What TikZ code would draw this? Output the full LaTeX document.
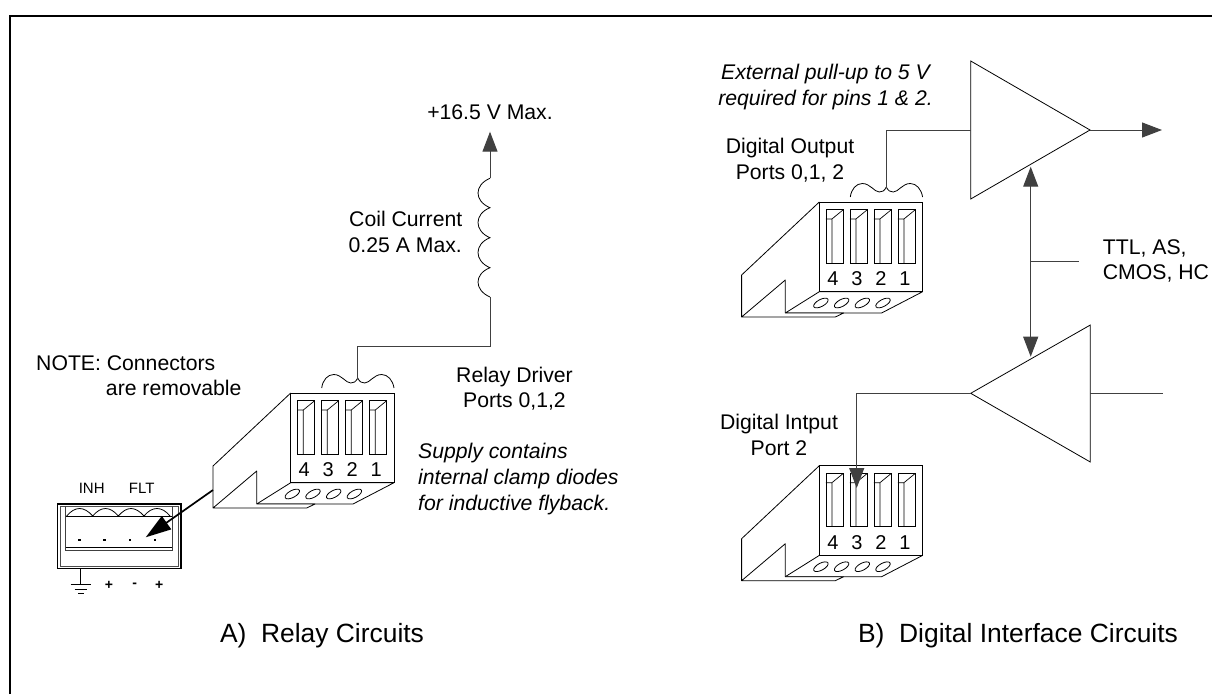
\documentclass[tikz,border=0pt]{standalone}
\usepackage{fontspec}
\setmainfont{Liberation Sans}
\usetikzlibrary{arrows.meta}
\tikzset{
  wire/.style={line width=1pt,draw=black!75},
  thin line/.style={line width=0.8pt,draw=black},
  arrowed/.style={wire,-{Triangle[length=20pt,width=15pt]}},
  twoway/.style={wire,{Triangle[length=20pt,width=15pt]}-{Triangle[length=20pt,width=15pt]}},
  label/.style={inner sep=0pt,font=\fontsize{21.2}{25.4}\selectfont,align=left},
  note text/.style={inner sep=0pt,font=\fontsize{21.2}{26}\selectfont\itshape},
  caption text/.style={inner sep=0pt,font=\fontsize{26.4}{30}\selectfont,anchor=base},
  small/.style={inner sep=0pt,font=\fontsize{15}{18}\selectfont},
  pin/.style={inner sep=0pt,font=\fontsize{20}{22}\selectfont},
  sign/.style={inner sep=0pt,font=\fontsize{14}{16}\bfseries\selectfont},
}
\newcommand{\connector}[3]{%
\begin{scope}[shift={(#1,#2)}]
  \draw[thin line,line join=round] (0,89.7) -- (103.3,89.7) -- (62.3,111) -- (-34,111) -- cycle;
  \draw[thin line,fill=white,line join=round] (0,0) -- (-77.7,73) -- (-77.7,115) -- (16,115) -- (24.3,111) -- (-34,111) -- (-34,78) -- (-77.7,115);
  \draw[thin line] (0,0) rectangle (103.3,89.7);
  \foreach \k/\n in {0/4,1/3,2/2,3/1}{
    \begin{scope}[xshift=\k*24pt]
      \draw[thin line] (6.6,7.7) rectangle (24,61);
      \draw[line width=0.7pt] (12.6,61) -- (12.6,17) -- (6.6,17) (12.6,17) -- (24,7.7);
      \node[pin] (#3n\n) at (13.5,77) {\n};
    \end{scope}
  }
  \foreach \k in {0,1,2,3}{
    \draw[thin line,rotate around={28:(1.6+\k*20.7,101)}] (1.6+\k*20.7,101) ellipse (8 and 3.5);
  }
  \coordinate (#3top) at (67,-14);
  \coordinate (#3left) at (-77.7,97);
\end{scope}}
\newcommand{\pinbrace}[2]{%
\begin{scope}[shift={(#1,#2)}]
  \draw[thin line] (31,-5) .. controls (32,-13) and (37,-18.5) .. (43,-18.5)
    .. controls (51,-18.5) and (55,-10) .. (60,-10) .. controls (63,-10) and (65,-11) .. (67,-15)
    .. controls (69,-11) and (71,-10) .. (74,-10) .. controls (79,-10) and (83,-18.5) .. (91,-18.5)
    .. controls (97,-18.5) and (102,-13) .. (103.3,-5);
\end{scope}}
\begin{document}
\begin{tikzpicture}[x=1pt,y=-1pt]
\useasboundingbox (0,0) rectangle (1212,694);
\fill[white] (0,0) rectangle (1212,694);
\draw[line width=2.4pt] (10,694) -- (10,16) -- (1212,16);

% Relay connector
\connector{290.7}{393}{a}\pinbrace{290.7}{393}
% Digital output
\connector{819.3}{202}{b}\pinbrace{819.3}{202}
% Digital input
\connector{819.3}{465.7}{c}

% Coil
\coordinate (coilbot) at (490,297);
\coordinate (coiltop) at (490,178.3);
\coordinate (plus) at (490,131.7);
\draw[wire] (atop) -- (atop |- 0,346) -- (490,346) -- (coilbot);
\draw[thin line] (coilbot) .. controls (474,290) and (474,274) .. (490,267.7)
  .. controls (474,261) and (474,244) .. (490,237.7)
  .. controls (474,231) and (474,214) .. (490,207.7)
  .. controls (474,201) and (474,185) .. (490,178.3);
\draw[arrowed] (coiltop) -- (plus);

\node[label] (vmax) at (490,112) {+16.5 V Max.};
\node[label,anchor=east] (coil1) at (462.5,219) {Coil Current};
\node[label,anchor=east] (coil2) at (462,245) {0.25 A Max.};
\node[label,anchor=west] (note1) at (36,363) {NOTE: Connectors};
\node[label,anchor=east] (note2) at (241.7,388) {are removable};
\node[label,align=center] (relay) at (514.5,388.5) {Relay Driver\\Ports 0,1,2};
\node[note text,anchor=west,align=left] (supply) at (418,479) {Supply contains\\internal clamp diodes\\for inductive flyback.};
\node[caption text] (ca) at (322,642) {A)\ \ Relay Circuits};
\node[caption text] (cb) at (1018,642) {B)\ \ Digital Interface Circuits};

% Plug
\draw[line width=1.3pt] (57.7,504) rectangle (181,568.3);
\draw[thin line,draw=black!70] (60,506) rectangle (178.5,566);
\draw[line width=1pt,draw=black!75] (65.7,506) -- (65.7,550.7) -- (172.3,550.7) -- (172.3,506);
\draw[thin line] (65.7,547.3) -- (172.3,547.3);
\draw[thin line] (65.7,516) -- (172.3,516);
\draw[thin line] (66.7,516) .. controls (75,506) and (84,506) .. (92.7,516)
 .. controls (101,506) and (110,506) .. (118.3,516)
 .. controls (127,506) and (135,506) .. (144,516)
 .. controls (152,506) and (162,506) .. (170,516);
\foreach \x in {79.3,104.7,130,155}{\fill (\x-1.3,538.7) rectangle (\x+1.3,541.3);}
\node[small] (inh) at (91.7,488) {INH};
\node[small] (flt) at (141.7,488) {FLT};
\coordinate (plugpin) at (145.7,537.3);
\draw[line width=1.7pt,-{Triangle[length=25.5pt,width=16pt]}] (aleft) -- (plugpin);
% Ground
\coordinate (g0) at (80.7,568.3);
\coordinate (g1) at (80.7,584);
\draw[line width=1pt] (g0) -- (g1);
\draw[line width=1pt] (70.7,584) -- (90.7,584);
\draw[line width=1pt] (74.5,589) -- (87,589);
\draw[line width=1pt] (78.3,593.7) -- (84,593.7);
\node[sign] (p1) at (109,585) {+};
\node[sign] (m1) at (134.7,585) {-};
\node[sign] (p2) at (159.3,585) {+};

% Buffers
\coordinate (t1a) at (970.7,61);
\coordinate (t1b) at (970.7,199);
\coordinate (t1tip) at (1090,130);
\coordinate (t1in) at (970.7,130);
\coordinate (t1mid) at (1030.7,166.7);
\coordinate (out) at (1162,130);
\coordinate (t2a) at (1090.3,325);
\coordinate (t2b) at (1090.3,462);
\coordinate (t2tip) at (970.7,393.3);
\coordinate (t2in) at (1090.3,393.3);
\coordinate (t2mid) at (1030.7,356.7);
\coordinate (t2out) at (1162.7,393.3);
\coordinate (branch) at (1030.7,261.7);
\coordinate (branchend) at (1079,261.7);
\coordinate (cpin) at (856.7,488);
\draw[thin line,line join=miter] (t1a) -- (t1tip) -- (t1b) -- cycle;
\draw[thin line,line join=miter] (t2a) -- (t2tip) -- (t2b) -- cycle;
\draw[wire] (btop) -- (btop |- t1in) -- (t1in);
\draw[arrowed] (t1tip) -- (out);
\draw[twoway] (t1mid) -- (t2mid);
\draw[wire] (branch) -- (branchend);
\draw[wire] (t2in) -- (t2out);
\draw[arrowed] (t2tip) -- (cpin |- t2tip) -- (cpin);

\node[note text,align=center] (pull) at (825.5,87.5) {External pull-up to 5 V\\required for pins 1 \& 2.};
\node[label,align=center] (dout) at (790,160) {Digital Output\\Ports 0,1, 2};
\node[label,anchor=west] (ttl) at (1102.7,261) {TTL, AS,\\CMOS, HC};
\node[label,align=center] (din) at (779,435) {Digital Intput\\Port 2};
\end{tikzpicture}
\end{document}
